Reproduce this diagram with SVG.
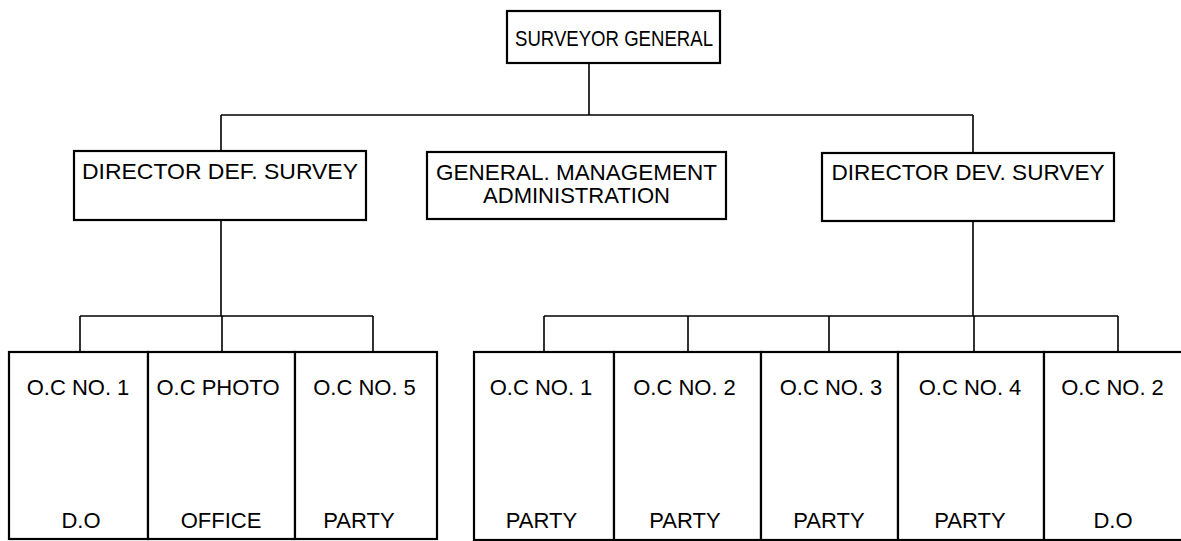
<svg xmlns="http://www.w3.org/2000/svg" width="1181" height="541" viewBox="0 0 1181 541">
<style>
.box{fill:#fff;stroke:#000;stroke-width:2.2}
.ln{fill:none;stroke:#000;stroke-width:1.6}
text{font-family:"Liberation Sans",Arial,sans-serif;fill:#000;text-anchor:middle}
.h{font-size:22px}
.c{font-size:22px}
</style>
<rect x="0" y="0" width="1181" height="541" fill="#fff"/>
<g id="connectors">
<path class="ln" d="M589 63V115M221 115H973M221 115V151M973 115V153"/>
<path class="ln" d="M221 220V316M80 316H373M80 316V352M222 316V352M373 316V352"/>
<path class="ln" d="M973 221V316M544 316H1118M544 316V352M688 316V352M829 316V352M974 316V352M1118 316V352"/>
</g>
<g id="surveyor-general">
<rect class="box" x="507" y="11" width="213" height="52"/>
<text class="h" x="614" y="46" textLength="198" lengthAdjust="spacingAndGlyphs">SURVEYOR GENERAL</text>
</g>
<g id="director-def">
<rect class="box" x="74" y="151" width="292" height="69"/>
<text class="h" x="220" y="179" textLength="276" lengthAdjust="spacingAndGlyphs">DIRECTOR DEF. SURVEY</text>
</g>
<g id="gen-mgmt">
<rect class="box" x="427" y="152" width="299" height="67"/>
<text class="h" x="576.5" y="180" textLength="281" lengthAdjust="spacingAndGlyphs">GENERAL. MANAGEMENT</text>
<text class="h" x="576.5" y="203" textLength="187" lengthAdjust="spacingAndGlyphs">ADMINISTRATION</text>
</g>
<g id="director-dev">
<rect class="box" x="822" y="153" width="292" height="68"/>
<text class="h" x="968" y="180" textLength="273" lengthAdjust="spacingAndGlyphs">DIRECTOR DEV. SURVEY</text>
</g>
<g id="oc1-do">
<rect class="box" x="9" y="352" width="139" height="187"/>
<text class="c" x="78" y="395">O.C NO. 1</text>
<text class="c" x="81" y="528">D.O</text>
</g>
<g id="oc-photo">
<rect class="box" x="148" y="352" width="147" height="187"/>
<text class="c" x="218" y="395">O.C PHOTO</text>
<text class="c" x="221" y="528">OFFICE</text>
</g>
<g id="oc5-party">
<rect class="box" x="295" y="352" width="142" height="187"/>
<text class="c" x="364.5" y="395">O.C NO. 5</text>
<text class="c" x="359" y="528">PARTY</text>
</g>
<g id="oc1-party">
<rect class="box" x="474" y="352" width="140" height="188"/>
<text class="c" x="541" y="395">O.C NO. 1</text>
<text class="c" x="541.5" y="528">PARTY</text>
</g>
<g id="oc2-party">
<rect class="box" x="614" y="352" width="147" height="188"/>
<text class="c" x="684.5" y="395">O.C NO. 2</text>
<text class="c" x="685" y="528">PARTY</text>
</g>
<g id="oc3-party">
<rect class="box" x="761" y="352" width="137" height="188"/>
<text class="c" x="831" y="395">O.C NO. 3</text>
<text class="c" x="829" y="528">PARTY</text>
</g>
<g id="oc4-party">
<rect class="box" x="898" y="352" width="146" height="188"/>
<text class="c" x="970" y="395">O.C NO. 4</text>
<text class="c" x="970" y="528">PARTY</text>
</g>
<g id="oc2-do">
<rect class="box" x="1044" y="352" width="146" height="188"/>
<text class="c" x="1112.5" y="395">O.C NO. 2</text>
<text class="c" x="1113" y="528">D.O</text>
</g>
</svg>
